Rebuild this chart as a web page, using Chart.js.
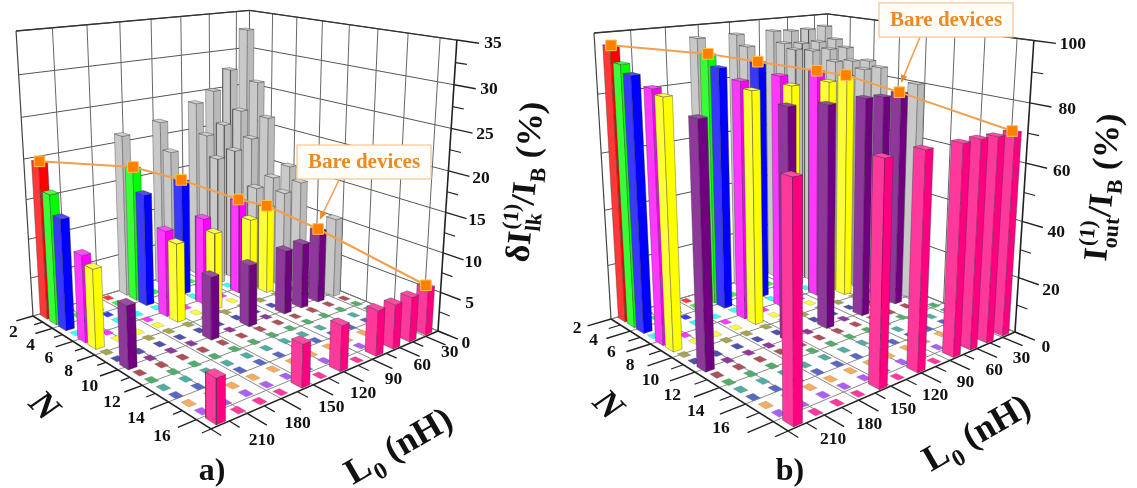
<!DOCTYPE html>
<html>
<head>
<meta charset="utf-8">
<title>Bare devices 3D bars</title>
<script src="https://cdn.jsdelivr.net/npm/chart.js@4"></script>
<style>
  html, body { margin: 0; padding: 0; background: #fff; }
  #wrap { display: flex; width: 1137px; height: 488px; overflow: hidden; }
  canvas { display: block; }
</style>
</head>
<body>
<div id="wrap">
  <canvas id="chart-a" width="568" height="488"></canvas>
  <canvas id="chart-b" width="569" height="488"></canvas>
</div>
<script>
// ── Data ──────────────────────────────────────────
const nRows = [2, 3, 4, 5, 6, 7, 8, 9, 10, 11, 12, 13, 14, 15, 16, 17];
const lColumns = [210, 195, 180, 165, 150, 135, 120, 105, 90, 75, 60, 45];
const barN = [2, 3, 4, 6, 7, 10, 17];
const barL = [210, 150, 120, 90, 75, 60, 45];

const leakN2 = [19.7, 21.2, 22.1, 23.8, 25.1, 27.6, 32.7];
const leakN3 = [16.4, 17.45, 18.6, 19.9, 20.9, 22.4, 25.9];
const leakN4 = [14.0, 14.6, 15.2, 17.2, 17.8, 19.0, 21.4];
const leakN6 = [10.8, 11.1, 11.4, 12.5, 13.7, 14.6, 15.6];
const leakN7 = [9.8, 10.1, 10.1, 10.6, 11.6, 13.0, 13.9];
const leakN10 = [7.6, 7.9, 7.9, 8.3, 8.5, 9.55, 10.5];
const leakN17 = [5.1, 5.1, 5.5, 5.6, 5.5, 5.6, 5.95];

const outN2 = [96, 96, 96, 96, 95.5, 95.5, 96];
const outN3 = [91, 91, 92.4, 92.2, 91.5, 91.4, 91.7];
const outN4 = [88.3, 87.3, 87.5, 90.6, 89.5, 89.4, 89.2];
const outN6 = [85.8, 84.5, 84.5, 84.2, 87, 86.5, 85.7];
const outN7 = [84.2, 82.3, 82, 81.5, 82.6, 84.2, 84];
const outN10 = [80.6, 80, 78.5, 78.5, 78, 78.2, 80.5];
const outN17 = [72.4, 72, 71.8, 71.2, 71.2, 70.8, 70.8];

const leakRows = [leakN2, leakN3, leakN4, leakN6, leakN7, leakN10, leakN17];
const outRows = [outN2, outN3, outN4, outN6, outN7, outN10, outN17];

const nTickLabels = [2, 4, 6, 8, 10, 12, 14, 16];
const lTickLabels = [210, 180, 150, 120, 90, 60, 30];
const zTicksA = [0, 5, 10, 15, 20, 25, 30, 35];
const zTicksB = [0, 20, 40, 60, 80, 100];

// bar colour per N row, Origin's colour increment list
const rowColors = ['#ff0000', '#00ff00', '#0000ff', '#00ffff', '#ff00ff', '#ffff00',
  '#8c8c1e', '#1e1e96', '#700080', '#961e28', '#1e9640', '#1e9688',
  '#2a3cb4', '#f59632', '#9632f0', '#ff0080'];
const GRAY = '#bababa';

// ── Panel frames: box corners on screen ───────────
const frameA = {
  xMin: 0, xMax: 568,
  A: [33, 316], B: [211, 429], C: [438, 331], D: [248, 252.6],
  Atop: [16, 31], vanish: [227, 3580],
  zMax: 35, zMinor: 2.5, zTicks: zTicksA, rows: leakRows,
  zTitle: [{ t: 'δ' }, { t: 'I' }, { sup: '(1)', sub: 'lk' }, { t: '/' }, { t: 'I' }, { sub: 'B' }, { t: ' (%)' }],
  zTitleAt: [528, 263], lTitleAt: [353, 485], nTitleAt: [43, 407],
  nTick: 0.065,
  zOff: [8, 6, 4, -4], lOff: [-6.5, 11.4, 16.2, -8.7], nOff: [-3, -14, 12, -3],
  panel: 'a)', panelAt: [212, 480],
  box: [297, 145, 134, 34], arrowFrom: [339, 180]
};
const frameB = {
  xMin: 568, xMax: 1137,
  A: [611, 319], B: [788, 431], C: [1015, 332], D: [826, 255.5],
  Atop: [593, 33], vanish: [805, 3583],
  zMax: 100, zMinor: 10, zTicks: zTicksB, rows: outRows,
  zTitle: [{ t: 'I' }, { sup: '(1)', sub: 'out' }, { t: '/' }, { t: 'I' }, { sub: 'B' }, { t: ' (%)' }],
  zTitleAt: [1106, 262], lTitleAt: [931, 472], nTitleAt: [607, 406],
  nTick: 0.09,
  zOff: [11, 6, 7, -6], lOff: [-12.7, 12.5, 13, 0], nOff: [-17, -18, 5, -6.5],
  panel: 'b)', panelAt: [790, 480],
  box: [879, 3, 134, 34], arrowFrom: [920, 37]
};

const SERIF = '"Liberation Serif", "Times New Roman", serif';

// ── Projection: unit box (u along N, v along L, h up) to screen ──
function makeProjection(f) {
  const [x0, y0] = f.A, [x1, y1] = f.B, [x2, y2] = f.C, [x3, y3] = f.D;
  const sx = x0 - x1 + x2 - x3, sy = y0 - y1 + y2 - y3;
  const dx1 = x1 - x2, dx2 = x3 - x2, dy1 = y1 - y2, dy2 = y3 - y2;
  const det = dx1 * dy2 - dx2 * dy1;
  const g = (sx * dy2 - dx2 * sy) / det;
  const h = (dx1 * sy - sx * dy1) / det;
  const a = x1 - x0 + g * x1, b = x3 - x0 + h * x3;
  const d = y1 - y0 + g * y1, e = y3 - y0 + h * y3;
  const t = (y0 - f.Atop[1]) / (f.Atop[1] - f.vanish[1]);
  return (u, v, z) => {
    const k = z * t;
    const w = g * u + h * v + 1 + k;
    return {
      x: (a * u + b * v + x0 + k * f.vanish[0]) / w,
      y: (d * u + e * v + y0 + k * f.vanish[1]) / w
    };
  };
}

function lighten(hex, amt) {
  const n = parseInt(hex.slice(1), 16);
  const c = [n >> 16, (n >> 8) & 255, n & 255].map(v => Math.round(v + (255 - v) * amt));
  return `rgb(${c[0]},${c[1]},${c[2]})`;
}

const uOfRow = i => (i + 0.5) / nRows.length;
const vOfCol = j => (j + 0.5) / lColumns.length;
const uOfTick = n => (n - 2) / 15;
const vOfTick = l => (240 - l) / 225;

// ── Datasets for one panel, in painter's order ────
function buildDatasets(f) {
  const P = makeProjection(f);
  const out = [];
  const poly = (pts, fill, stroke, width) => out.push({
    data: pts.concat([pts[0]]), showLine: true, fill: 'shape', backgroundColor: fill,
    borderColor: stroke, borderWidth: width, pointRadius: 0, tension: 0
  });
  const line = (pts, color, width) => out.push({
    data: pts, showLine: true, fill: false, borderColor: color, borderWidth: width,
    pointRadius: 0, tension: 0
  });

  // walls
  const zLines = [];
  for (let z = 0; z <= f.zMax + 1e-6; z += f.zMinor * 2) zLines.push(z / f.zMax);
  zLines.forEach(h => {
    line([P(0, 0, h), P(0, 1, h)], '#555', 1);
    line([P(0, 1, h), P(1, 1, h)], '#555', 1);
  });
  lTickLabels.forEach(l => line([P(0, vOfTick(l), 0), P(0, vOfTick(l), 1)], '#666', 1));
  nTickLabels.forEach(n => { if (n > 2) line([P(uOfTick(n), 1, 0), P(uOfTick(n), 1, 1)], '#666', 1); });
  line([P(0, 0, 1), P(0, 1, 1), P(1, 1, 1)], '#333', 1.3);
  line([P(0, 0, 0), P(0, 0, 1)], '#444', 1.2);
  line([P(0, 1, 0), P(0, 1, 1)], '#555', 1);

  // floor grid
  lTickLabels.forEach(l => line([P(0, vOfTick(l), 0), P(1, vOfTick(l), 0)], '#8a8a8a', 1));
  nTickLabels.forEach(n => line([P(uOfTick(n), 0, 0), P(uOfTick(n), 1, 0)], '#8a8a8a', 1));
  line([P(0, 1, 0), P(1, 1, 0)], '#777', 1);

  // outer axes and ticks
  line([P(1, 1, 0), P(1, 1, 1)], '#222', 1.6);
  f.zTicks.forEach(z => line([P(1, 1, z / f.zMax), P(1.085, 1, z / f.zMax)], '#222', 1.4));
  f.zTicks.slice(0, -1).forEach(z => {
    const h = (z + f.zMinor) / f.zMax;
    line([P(1, 1, h), P(1.045, 1, h)], '#222', 1.2);
  });
  line([P(0, 0, 0), P(1, 0, 0), P(1, 1, 0)], '#222', 1.5);
  for (let n = 2; n <= 17; n++) {
    const major = n % 2 === 0;
    line([P(uOfTick(n), 0, 0), P(uOfTick(n), major ? -f.nTick : -f.nTick / 2, 0)], '#222', major ? 1.4 : 1.2);
  }
  for (let l = 240; l >= 15; l -= 15) {
    const major = (l - 30) % 30 === 0 && l <= 210;
    line([P(1, vOfTick(l), 0), P(major ? 1.085 : 1.045, vOfTick(l), 0)], '#222', major ? 1.4 : 1.2);
  }

  // cells, back to front
  const huBar = 0.39 / nRows.length, hvBar = 0.2 / lColumns.length;
  const huTile = 0.3 / nRows.length, hvTile = 0.17 / lColumns.length;
  const hasBar = (n, l) => barN.includes(n) && barL.includes(l);

  nRows.forEach((n, i) => {
    for (let j = lColumns.length - 1; j >= 0; j--) {
      if (hasBar(n, lColumns[j])) continue;
      const u = uOfRow(i), v = vOfCol(j);
      poly([P(u - huTile, v - hvTile, 0), P(u + huTile, v - hvTile, 0), P(u + huTile, v + hvTile, 0), P(u - huTile, v + hvTile, 0)],
        lighten(rowColors[i], 0.22), '#77777788', 0.5);
    }
  });
  nRows.forEach((n, i) => {
    const r = barN.indexOf(n);
    if (r < 0) return;
    for (let c = barL.length - 1; c >= 0; c--) {
      const u = uOfRow(i), v = vOfCol(lColumns.indexOf(barL[c]));
      const h = f.rows[r][c] / f.zMax;
      const base = c <= r ? rowColors[i] : GRAY;
      const u0 = u - huBar, u1 = u + huBar, v0 = v - hvBar, v1 = v + hvBar;
      poly([P(u0, v0, 0), P(u1, v0, 0), P(u1, v0, h), P(u0, v0, h)], lighten(base, 0.22), '#33333399', 0.6);
      poly([P(u1, v0, 0), P(u1, v1, 0), P(u1, v1, h), P(u1, v0, h)], base, '#33333399', 0.6);
      poly([P(u0, v0, h), P(u1, v0, h), P(u1, v1, h), P(u0, v1, h)], lighten(base, 0.3), '#33333399', 0.6);
    }
  });

  // bare devices trace on top
  const bare = barN.map((n, r) => {
    const u = uOfRow(nRows.indexOf(n)), v = vOfCol(lColumns.indexOf(barL[r]));
    return P(u, v, f.rows[r][r] / f.zMax);
  });
  out.push({
    data: bare, showLine: true, fill: false, borderColor: '#f2a050', borderWidth: 2, tension: 0,
    pointStyle: 'rect', pointRadius: 7.5, pointBackgroundColor: '#ff8000',
    pointBorderColor: '#ffc050', pointBorderWidth: 1
  });

  out.forEach((d, k) => { d.order = out.length - k; });
  return { datasets: out, P, bare };
}

// ── Text ──────────────────────────────────────────
function drawRuns(ctx, runs, size) {
  let x = 0;
  const small = Math.round(size * 0.66);
  runs.forEach(r => {
    if (r.t) {
      ctx.font = `bold ${size}px ${SERIF}`;
      ctx.fillText(r.t, x, 0);
      x += ctx.measureText(r.t).width;
    } else {
      ctx.font = `bold ${small}px ${SERIF}`;
      let w = 0;
      if (r.sup) { ctx.fillText(r.sup, x + 1, -size * 0.42); w = ctx.measureText(r.sup).width + 1; }
      if (r.sub) { ctx.fillText(r.sub, x + 1, size * 0.26); w = Math.max(w, ctx.measureText(r.sub).width + 1); }
      x += w;
    }
  });
}

function textPlugin(f, P, bare) {
  return {
    id: 'labels',
    afterDatasetsDraw(chart) {
      const { ctx, scales } = chart;
      const X = v => scales.x.getPixelForValue(v), Y = v => scales.y.getPixelForValue(v);
      ctx.save();
      ctx.fillStyle = '#111';
      ctx.textAlign = 'center';
      ctx.textBaseline = 'middle';
      ctx.font = `bold 17.5px ${SERIF}`;

      f.zTicks.forEach(z => {
        const h = z / f.zMax;
        const p = P(1.085, 1, h);
        ctx.fillText(String(z), X(p.x) + f.zOff[0] + f.zOff[1] * h, Y(p.y) + f.zOff[2] + f.zOff[3] * h);
      });
      lTickLabels.forEach(l => {
        const v = vOfTick(l);
        const p = P(1.085, v, 0);
        ctx.fillText(String(l), X(p.x) + f.lOff[0] + f.lOff[1] * v, Y(p.y) + f.lOff[2] + f.lOff[3] * v);
      });
      nTickLabels.forEach(n => {
        const u = uOfTick(n);
        const p = P(u, -0.065, 0);
        ctx.fillText(String(n), X(p.x) + f.nOff[0] + f.nOff[1] * u, Y(p.y) + f.nOff[2] + f.nOff[3] * u);
      });

      ctx.textAlign = 'left';
      ctx.textBaseline = 'alphabetic';
      // value axis title
      ctx.save();
      ctx.translate(X(f.zTitleAt[0]), Y(f.zTitleAt[1]));
      ctx.rotate(-84.5 * Math.PI / 180);
      drawRuns(ctx, f.zTitle, 34);
      ctx.restore();
      // L0 title along the front edge
      ctx.save();
      ctx.translate(X(f.lTitleAt[0]), Y(f.lTitleAt[1]));
      ctx.rotate(-30 * Math.PI / 180);
      drawRuns(ctx, [{ t: 'L' }, { sub: '0' }, { t: ' (nH)' }], 36);
      ctx.restore();
      // N title
      ctx.save();
      ctx.translate(X(f.nTitleAt[0]), Y(f.nTitleAt[1]));
      ctx.rotate(45 * Math.PI / 180);
      ctx.font = `italic bold 36px ${SERIF}`;
      ctx.textAlign = 'center';
      ctx.textBaseline = 'middle';
      ctx.fillText('N', 0, 0);
      ctx.restore();
      // panel letter
      ctx.font = `bold 32px ${SERIF}`;
      ctx.textAlign = 'center';
      ctx.fillText(f.panel, X(f.panelAt[0]), Y(f.panelAt[1]));

      // callout
      const [bx, by, bw, bh] = f.box;
      const tip = bare[5];
      const ax = X(tip.x) + 2, ay = Y(tip.y) - 10;
      const fx = X(f.arrowFrom[0]), fy = Y(f.arrowFrom[1]);
      const ang = Math.atan2(ay - fy, ax - fx);
      ctx.strokeStyle = '#f2a050';
      ctx.fillStyle = '#f08a20';
      ctx.lineWidth = 1.6;
      ctx.beginPath(); ctx.moveTo(fx, fy); ctx.lineTo(ax, ay); ctx.stroke();
      ctx.beginPath();
      ctx.moveTo(ax, ay);
      ctx.lineTo(ax - 8 * Math.cos(ang - 0.45), ay - 8 * Math.sin(ang - 0.45));
      ctx.lineTo(ax - 8 * Math.cos(ang + 0.45), ay - 8 * Math.sin(ang + 0.45));
      ctx.closePath(); ctx.fill();
      ctx.fillStyle = '#fffdfa';
      ctx.strokeStyle = '#f5c590';
      ctx.lineWidth = 1.2;
      ctx.fillRect(X(bx), Y(by), bw, bh);
      ctx.strokeRect(X(bx), Y(by), bw, bh);
      ctx.fillStyle = '#ee8a22';
      ctx.font = `bold 21px ${SERIF}`;
      ctx.textBaseline = 'middle';
      ctx.fillText('Bare devices', X(bx) + bw / 2, Y(by) + bh / 2 + 1);
      ctx.restore();
    }
  };
}

// ── Charts ────────────────────────────────────────
function renderPanel(id, f) {
  const { datasets, P, bare } = buildDatasets(f);
  new Chart(document.getElementById(id), {
    type: 'scatter',
    data: { datasets },
    options: {
      responsive: false,
      animation: false,
      events: [],
      layout: { padding: 0, autoPadding: false },
      plugins: { legend: { display: false }, tooltip: { enabled: false } },
      scales: {
        x: { type: 'linear', display: false, min: f.xMin, max: f.xMax },
        y: { type: 'linear', display: false, min: 0, max: 488, reverse: true }
      }
    },
    plugins: [textPlugin(f, P, bare)]
  });
}

renderPanel('chart-a', frameA);
renderPanel('chart-b', frameB);
</script>
</body>
</html>
